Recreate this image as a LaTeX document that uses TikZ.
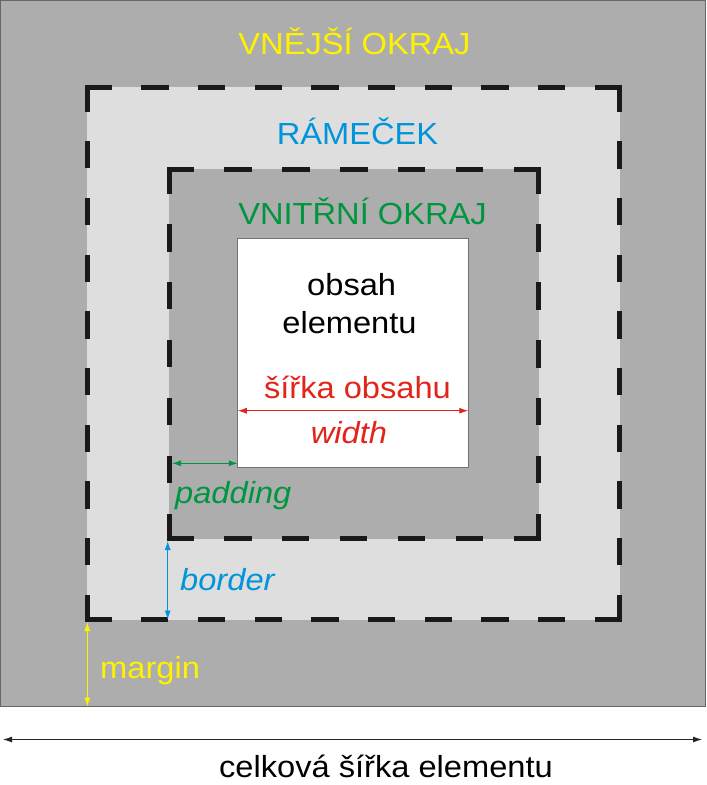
\documentclass[tikz,border=0pt]{standalone}
\usepackage{fontspec}
\setmainfont{Liberation Sans}
\newfontfamily\popisek[FakeStretch=1.07]{Liberation Sans}
\usepackage{tikz}
\usetikzlibrary{arrows.meta, positioning}
\definecolor{okrajgray}{RGB}{173,173,173}
\definecolor{ramecekgray}{RGB}{222,222,222}
\definecolor{vnejsiyellow}{RGB}{255,242,0}
\definecolor{ramecekblue}{RGB}{0,149,218}
\definecolor{vnitrnigreen}{RGB}{0,150,63}
\definecolor{obsahred}{RGB}{225,37,27}

\begin{document}
\begin{tikzpicture}[x=1pt, y=-1pt,
    plocha/.style={rectangle, inner sep=0pt, outer sep=0pt},
    ramec/.style={line width=5pt, line cap=rect, draw=black!90},
    popis/.style={font=\popisek\fontsize{30.5}{36}\selectfont, inner sep=0pt},
    sipka/.style={line width=0.9pt, {Latex[length=9pt,width=6pt]}-{Latex[length=9pt,width=6pt]}}
]
    \useasboundingbox (0,0) rectangle (707,785);

    % plochy
    \node[plocha, fill=okrajgray, draw=black!60, line width=1.2pt, minimum width=705pt, minimum height=706pt] (element) at (353,353.5) {};
    \node[plocha, fill=ramecekgray, minimum width=532.5pt, minimum height=532.5pt] (ramecek) at (353.25,353.25) {};
    \node[plocha, fill=okrajgray, minimum width=369.5pt, minimum height=369.5pt] (vnitrni) at (353.75,353.75) {};
    \node[plocha, fill=white, draw=black!55, line width=1pt, minimum width=230.5pt, minimum height=229.5pt] (obsah) at (353,353.2) {};

    % carkovane ramecky
    \draw[ramec, dash pattern=on 22.3pt off 34.4pt]
        (ramecek.north west) -- (ramecek.north east) (ramecek.north east) -- (ramecek.south east)
        (ramecek.south east) -- (ramecek.south west) (ramecek.south west) -- (ramecek.north west);
    \draw[ramec, dash pattern=on 22.3pt off 35.6pt]
        (vnitrni.north west) -- (vnitrni.north east) (vnitrni.north east) -- (vnitrni.south east)
        (vnitrni.south east) -- (vnitrni.south west) (vnitrni.south west) -- (vnitrni.north west);

    % popisky
    \node[popis, anchor=base, text=vnejsiyellow] (tvnejsi) at (354.5,54.3) {VNĚJŠÍ OKRAJ};
    \node[popis, anchor=base, text=ramecekblue] (tramecek) at (357.5,144.3) {RÁMEČEK};
    \node[popis, anchor=base, text=vnitrnigreen] (tvnitrni) at (362.5,224.3) {VNITŘNÍ OKRAJ};
    \node[popis, anchor=base] (tobsah) at (351.7,295) {obsah};
    \node[popis, anchor=base] (telement) at (349.5,333) {elementu};
    \node[popis, anchor=base, text=obsahred] (tsirka) at (357.5,398.3) {šířka obsahu};
    \node[popis, anchor=base, text=obsahred, font=\popisek\fontsize{30.5}{36}\selectfont\itshape] (twidth) at (349,443.3) {width};
    \node[popis, anchor=base west, text=vnitrnigreen, font=\popisek\fontsize{30.5}{36}\selectfont\itshape] (tpadding) at (175,503.3) {padding};
    \node[popis, anchor=base west, text=ramecekblue, font=\popisek\fontsize{30.5}{36}\selectfont\itshape] (tborder) at (180,590) {border};
    \node[popis, anchor=base west, text=vnejsiyellow] (tmargin) at (100,678.3) {margin};
    \node[popis, anchor=base] (tcelkova) at (386,777) {celková šířka elementu};

    % kóty
    \coordinate (sirkaL) at (obsah.west |- 0,410.7);
    \coordinate (sirkaR) at (obsah.east |- 0,410.7);
    \coordinate (padL) at (172,463.3);
    \coordinate (padR) at (obsah.west |- padL);
    \coordinate (borT) at (167.7,541);
    \coordinate (borB) at (borT |- ramecek.south);
    \coordinate (marT) at (87.3,622);
    \coordinate (marB) at (marT |- element.south);
    \coordinate (celL) at (3,739.5);
    \coordinate (celR) at (702,739.5);

    \draw[sipka, obsahred] (sirkaL) -- (sirkaR);
    \draw[sipka, vnitrnigreen] (padL) -- (padR);
    \draw[sipka, ramecekblue] (borT) -- (borB);
    \draw[sipka, vnejsiyellow] (marT) -- (marB);
    \draw[sipka, black!85] (celL) -- (celR);
\end{tikzpicture}
\end{document}
